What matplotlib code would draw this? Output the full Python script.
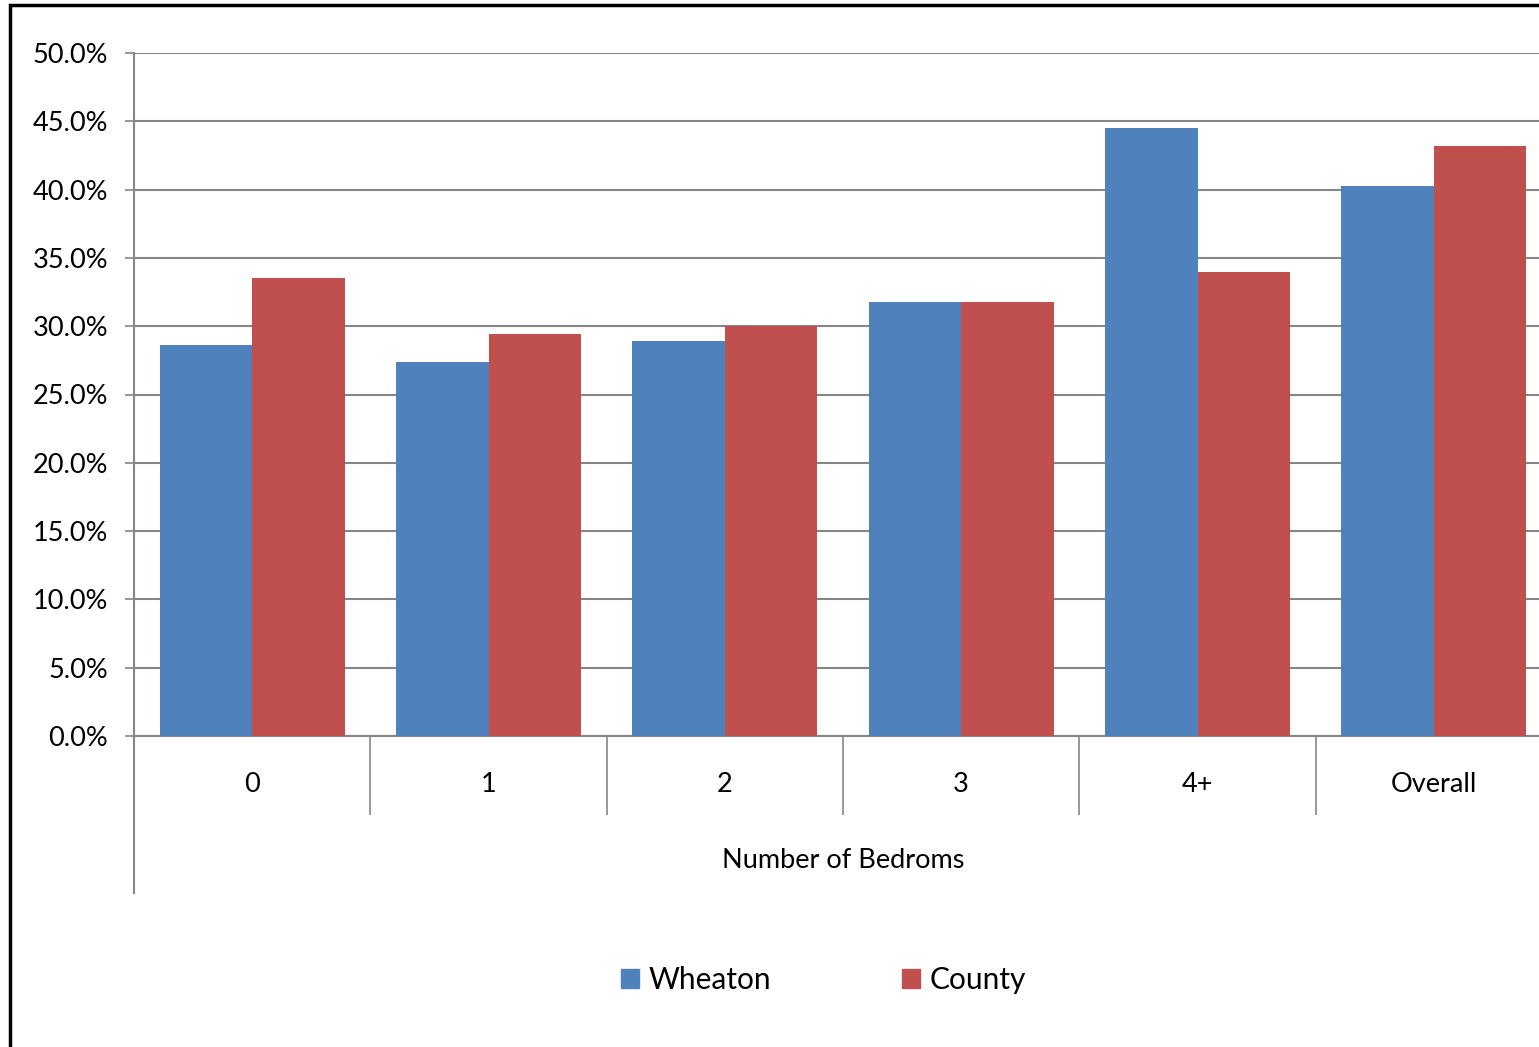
import matplotlib as mpl
mpl.use('Agg')
import numpy as np
import matplotlib.pyplot as plt
from matplotlib.lines import Line2D
from matplotlib.patches import Rectangle, Patch

plt.rcParams['font.family'] = ['Lato', 'DejaVu Sans']

categories = ['0', '1', '2', '3', '4+', 'Overall']
wheaton = [28.6, 27.4, 28.9, 31.8, 44.5, 40.3]   # percent
county = [33.5, 29.4, 30.0, 31.8, 34.0, 43.2]    # percent

blue = '#4F81BD'
red = '#C0504D'
grey = '#868686'

W, H = 1539, 1047
fig = plt.figure(figsize=(W / 100, H / 100), dpi=100)

# plot area runs a little past the right edge of the figure
left, right, top, bottom = 134, 1552, 53, 736
ax = fig.add_axes([left / W, 1 - bottom / H, (right - left) / W, (bottom - top) / H])

x = np.arange(len(categories))
bw = 0.391
ax.bar(x - bw / 2, wheaton, bw, color=blue, linewidth=0, zorder=3)
ax.bar(x + bw / 2, county, bw, color=red, linewidth=0, zorder=3)

ax.set_xlim(-0.5, len(categories) - 0.5)
ax.set_ylim(0, 50)
ax.set_yticks(np.arange(0, 50.1, 5))
ax.set_yticklabels(['%.1f%%' % v for v in np.arange(0, 50.1, 5)], fontsize=19.5)
ax.yaxis.grid(True, color=grey, linewidth=1.5, zorder=0)
ax.tick_params(axis='y', direction='out', length=6.5, width=1.2, color=grey, pad=12)

# category labels, with separator ticks between the groups
ax.set_xticks(x)
ax.set_xticklabels(categories, fontsize=19.5)
ax.tick_params(axis='x', which='major', length=0, pad=26)
ax.set_xticks(np.arange(-0.5, len(categories)), minor=True)
ax.tick_params(axis='x', which='minor', direction='out', length=57, width=1.2, color=grey)

for s in ['top', 'right']:
    ax.spines[s].set_visible(False)
for s in ['left', 'bottom']:
    ax.spines[s].set_color(grey)
    ax.spines[s].set_linewidth(1.5)

# left axis line carries on down past the group label
fig.add_artist(Line2D([left / W, left / W], [1 - bottom / H, 1 - 893 / H],
                      color=grey, linewidth=1.5))

fig.text((left + right) / 2 / W, 1 - 861 / H, 'Number of Bedroms',
         ha='center', va='center', fontsize=19.5)

handles = [Patch(color=blue, label='Wheaton'), Patch(color=red, label='County')]
fig.legend(handles=handles, loc='center', bbox_to_anchor=(823.5 / W, 1 - 980 / H),
           ncol=2, frameon=False, fontsize=21.5, handlelength=0.6, handleheight=0.6,
           handletextpad=0.3, columnspacing=4.4)

# chart border
fig.add_artist(Rectangle((10 / W, -0.1), 1.2, 1 - 5 / H + 0.1, fill=False,
                         edgecolor='black', linewidth=2.5, transform=fig.transFigure))

fig.savefig('out.png', dpi=100)
